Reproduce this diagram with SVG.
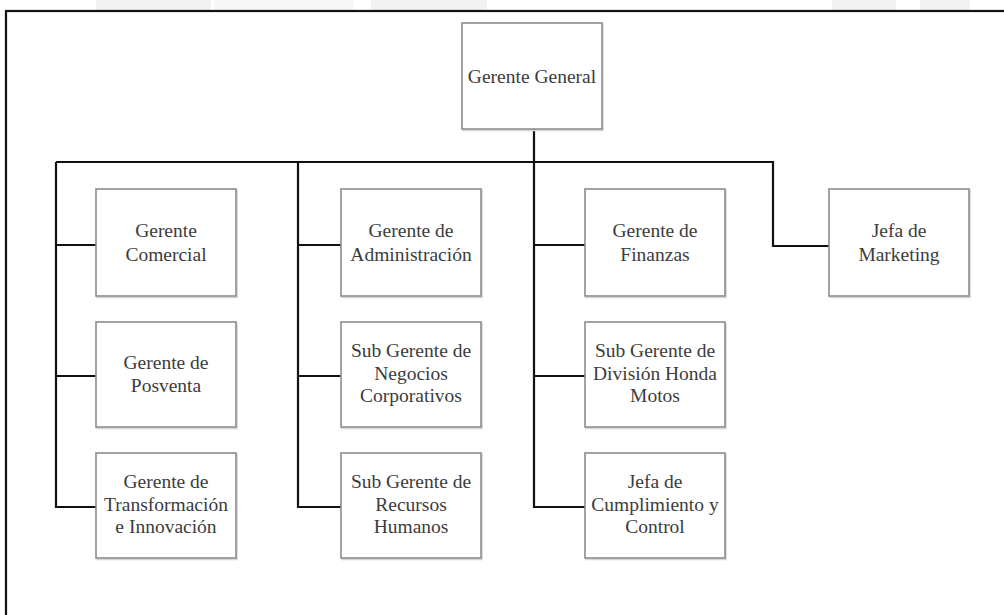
<svg xmlns="http://www.w3.org/2000/svg" width="1004" height="615" viewBox="0 0 1004 615">
  <style>
    .box { fill: #ffffff; stroke: #8c8c8c; stroke-width: 1.6; }
    .shadow { fill: none; stroke: #d6d6d6; stroke-width: 1.6; }
    .lbl { font-family: "Liberation Serif", "Times New Roman", serif; font-size: 19.5px; fill: #3c3c3c; text-anchor: middle; }
    .wire { fill: none; stroke: #111111; stroke-width: 2.2; stroke-linejoin: miter; stroke-linecap: butt; }
    .frame { fill: none; stroke: #111111; stroke-width: 2.2; }
    .wm { fill: #f2f2f2; }
  </style>

  <rect width="1004" height="615" fill="#ffffff"/>

  <!-- faint background print above the frame -->
  <g id="background">
    <rect class="wm" x="96" y="0" width="115" height="10"/>
    <rect class="wm" x="214" y="0" width="140" height="10" opacity="0.6"/>
    <rect class="wm" x="371" y="0" width="116" height="10"/>
    <rect class="wm" x="832" y="0" width="64" height="10"/>
    <rect class="wm" x="920" y="0" width="50" height="10"/>
  </g>

  <!-- page frame (continues past the visible area right and below) -->
  <rect class="frame" x="6" y="11" width="1010" height="620"/>

  <g id="connectors">
    <path class="wire" d="M534,129 V162"/>
    <path class="wire" d="M56,162 H773 V246 H829"/>
    <path class="wire" d="M56,162 V507 H96 M56,245 H96 M56,376 H96"/>
    <path class="wire" d="M298,162 V507 H341 M298,245 H341 M298,376 H341"/>
    <path class="wire" d="M534,162 V507 H585 M534,245 H585 M534,376 H585"/>
  </g>

  <g id="gerente-general">
    <rect class="shadow" x="463" y="24.5" width="140" height="106"/>
    <rect class="box" x="462" y="23" width="140" height="106"/>
    <text class="lbl" x="532" y="82.5">Gerente General</text>
  </g>

  <g id="gerente-comercial">
    <rect class="shadow" x="97" y="190.5" width="140" height="107"/>
    <rect class="box" x="96" y="189" width="140" height="107"/>
    <text class="lbl" x="166" y="237"><tspan x="166">Gerente</tspan><tspan x="166" dy="23.5">Comercial</tspan></text>
  </g>

  <g id="gerente-posventa">
    <rect class="shadow" x="97" y="323.5" width="140" height="105"/>
    <rect class="box" x="96" y="322" width="140" height="105"/>
    <text class="lbl" x="166" y="368.5"><tspan x="166">Gerente de</tspan><tspan x="166" dy="23">Posventa</tspan></text>
  </g>

  <g id="gerente-transformacion">
    <rect class="shadow" x="97" y="454.5" width="140" height="105"/>
    <rect class="box" x="96" y="453" width="140" height="105"/>
    <text class="lbl" x="166" y="488"><tspan x="166">Gerente de</tspan><tspan x="166" dy="22.5">Transformación</tspan><tspan x="166" dy="22.5">e Innovación</tspan></text>
  </g>

  <g id="gerente-administracion">
    <rect class="shadow" x="342" y="190.5" width="140" height="107"/>
    <rect class="box" x="341" y="189" width="140" height="107"/>
    <text class="lbl" x="411" y="237"><tspan x="411">Gerente de</tspan><tspan x="411" dy="23.5">Administración</tspan></text>
  </g>

  <g id="sub-gerente-negocios">
    <rect class="shadow" x="342" y="323.5" width="140" height="105"/>
    <rect class="box" x="341" y="322" width="140" height="105"/>
    <text class="lbl" x="411" y="357"><tspan x="411">Sub Gerente de</tspan><tspan x="411" dy="22.5">Negocios</tspan><tspan x="411" dy="22.5">Corporativos</tspan></text>
  </g>

  <g id="sub-gerente-rrhh">
    <rect class="shadow" x="342" y="454.5" width="140" height="105"/>
    <rect class="box" x="341" y="453" width="140" height="105"/>
    <text class="lbl" x="411" y="488"><tspan x="411">Sub Gerente de</tspan><tspan x="411" dy="22.5">Recursos</tspan><tspan x="411" dy="22.5">Humanos</tspan></text>
  </g>

  <g id="gerente-finanzas">
    <rect class="shadow" x="586" y="190.5" width="140" height="107"/>
    <rect class="box" x="585" y="189" width="140" height="107"/>
    <text class="lbl" x="655" y="237"><tspan x="655">Gerente de</tspan><tspan x="655" dy="23.5">Finanzas</tspan></text>
  </g>

  <g id="sub-gerente-honda">
    <rect class="shadow" x="586" y="323.5" width="140" height="105"/>
    <rect class="box" x="585" y="322" width="140" height="105"/>
    <text class="lbl" x="655" y="357"><tspan x="655">Sub Gerente de</tspan><tspan x="655" dy="22.5">División Honda</tspan><tspan x="655" dy="22.5">Motos</tspan></text>
  </g>

  <g id="jefa-cumplimiento">
    <rect class="shadow" x="586" y="454.5" width="140" height="105"/>
    <rect class="box" x="585" y="453" width="140" height="105"/>
    <text class="lbl" x="655" y="488"><tspan x="655">Jefa de</tspan><tspan x="655" dy="22.5">Cumplimiento y</tspan><tspan x="655" dy="22.5">Control</tspan></text>
  </g>

  <g id="jefa-marketing">
    <rect class="shadow" x="830" y="190.5" width="140" height="107"/>
    <rect class="box" x="829" y="189" width="140" height="107"/>
    <text class="lbl" x="899" y="237"><tspan x="899">Jefa de</tspan><tspan x="899" dy="23.5">Marketing</tspan></text>
  </g>
</svg>
